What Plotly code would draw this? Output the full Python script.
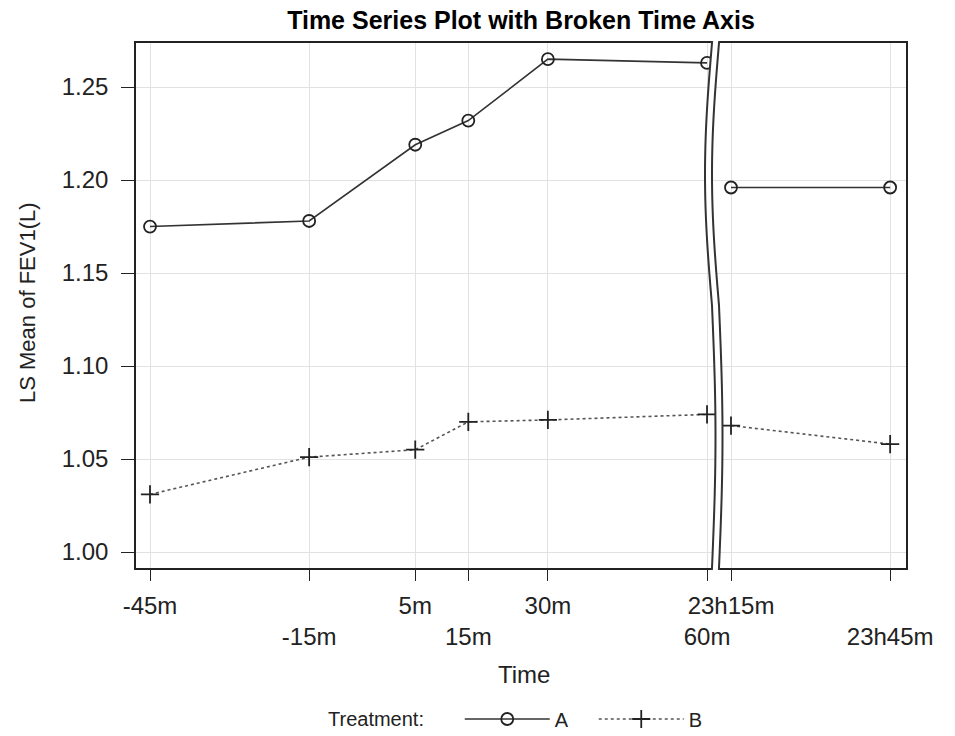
import math
import plotly.graph_objects as go

# ---------------- data ----------------
time_min = [-45, -15, 5, 15, 30, 60, 1395, 1425]
time_lbl = ["-45m", "-15m", "5m", "15m", "30m", "60m", "23h15m", "23h45m"]
label_row = [1, 2, 1, 2, 1, 2, 1, 2]
trt_A = [1.175, 1.178, 1.219, 1.232, 1.265, 1.263, 1.196, 1.196]
trt_B = [1.031, 1.051, 1.055, 1.070, 1.071, 1.074, 1.068, 1.058]
y_ticks = [1.00, 1.05, 1.10, 1.15, 1.20, 1.25]
break_after = 60  # minutes; axis is broken between 60m and 23h15m

# ---------------- layout geometry (pixels) ----------------
W, H = 955, 736
PL, PR, PT, PB = 136, 906, 43, 568
PW, PH = PR - PL, PB - PT
SPLIT = 716  # pixel where left / right panels meet
px_per_min = 5.305
x0_px = 150  # pixel of -45m
right_ref_px = 731  # pixel of 23h15m

def px2min_left(p):
    return -45 + (p - x0_px) / px_per_min

def px2min_right(p):
    return 1395 + (p - right_ref_px) / px_per_min

dsplit = (SPLIT - PL) / PW
rng_left = [px2min_left(PL), px2min_left(SPLIT)]
rng_right = [px2min_right(SPLIT), px2min_right(PR)]
y_rng = [0.9914, 1.2737]

def px_x(p):
    return (p - PL) / PW

def px_y(p):
    return (PB - p) / PH

FONT = "Liberation Sans, Arial, sans-serif"
INK = "#222222"
GRID = "#e2e2e2"
TICKFONT = dict(family=FONT, size=24, color=INK)

left_idx = [i for i, t in enumerate(time_min) if t <= break_after]
right_idx = [i for i, t in enumerate(time_min) if t > break_after]

fig = go.Figure()

def add_series(vals, name, sym, dash, color, msize):
    for idx, xa, show in ((left_idx, "x", True), (right_idx, "x2", False)):
        fig.add_trace(go.Scatter(
            x=[time_min[i] for i in idx], y=[vals[i] for i in idx],
            xaxis=xa, yaxis="y" if xa == "x" else "y2",
            mode="lines+markers", name=name, legendgroup=name, showlegend=show,
            line=dict(color=color, width=1.6, dash=dash),
            marker=dict(symbol=sym, size=msize, color=INK, line=dict(width=1.8, color=INK)),
        ))

add_series(trt_A, "A", "circle-open", "solid", "#333333", 12)
add_series(trt_B, "B", "cross-thin-open", "dot", "#555555", 13)

def tick_texts(idx):
    return [time_lbl[i] if label_row[i] == 1 else "<br>" + time_lbl[i] for i in idx]

axis_common = dict(
    ticks="outside", ticklen=11, tickwidth=1.3, tickcolor=INK,
    showline=True, linecolor=INK, linewidth=1.5, mirror=True,
    showgrid=True, gridcolor=GRID, gridwidth=1, zeroline=False,
    tickfont=TICKFONT, automargin=False, ticklabelstandoff=4,
)

fig.update_layout(
    width=W, height=H,
    margin=dict(l=PL, r=W - PR, t=PT, b=H - PB, autoexpand=False),
    paper_bgcolor="white", plot_bgcolor="white",
    font=dict(family=FONT, size=20, color=INK),
    title=dict(text="<b>Time Series Plot with Broken Time Axis</b>",
               x=0.5, xref="paper", xanchor="center",
               y=1 - 20 / H, yref="container", yanchor="middle",
               font=dict(family=FONT, size=25, color="#000000")),
    xaxis=dict(domain=[0, dsplit], range=rng_left, anchor="y",
               tickmode="array", tickvals=[time_min[i] for i in left_idx],
               ticktext=tick_texts(left_idx), **axis_common),
    xaxis2=dict(domain=[dsplit, 1], range=rng_right, anchor="y2",
                tickmode="array", tickvals=[time_min[i] for i in right_idx],
                ticktext=tick_texts(right_idx), **axis_common),
    yaxis=dict(domain=[0, 1], range=y_rng, anchor="x",
               tickmode="array", tickvals=y_ticks, tickformat=".2f",
               ticks="outside", ticklen=13, tickwidth=1.3, tickcolor=INK,
               showline=True, linecolor=INK, linewidth=1.5, mirror=False,
               showgrid=True, gridcolor=GRID, zeroline=False, automargin=False,
               ticklabelstandoff=8, tickfont=TICKFONT),
    yaxis2=dict(domain=[0, 1], range=y_rng, anchor="x2", matches="y", side="right",
                tickmode="array", tickvals=y_ticks, showticklabels=False, ticks="",
                showline=True, linecolor=INK, linewidth=1.5,
                showgrid=True, gridcolor=GRID, zeroline=False),
    legend=dict(orientation="h", x=px_x(326), xanchor="left",
                y=px_y(719), yanchor="middle",
                title=dict(text="Treatment:" + "&nbsp;" * 5, side="left",
                           font=dict(family=FONT, size=20, color=INK)),
                font=dict(family=FONT, size=20, color=INK),
                entrywidth=34, entrywidthmode="pixels",
                bgcolor="rgba(0,0,0,0)", itemwidth=85),
    showlegend=True,
)

# axis titles
fig.add_annotation(text="Time", xref="paper", yref="paper",
                   x=px_x(524), y=px_y(674), xanchor="center", yanchor="middle",
                   showarrow=False, font=dict(family=FONT, size=24, color=INK))
fig.add_annotation(text="LS Mean of FEV1(L)", xref="paper", yref="paper",
                   x=px_x(27), y=px_y(303), xanchor="center", yanchor="middle",
                   showarrow=False, textangle=-90,
                   font=dict(family=FONT, size=22, color=INK))

# broken-axis marker: two wavy lines with white gap
def offset(f):
    s = math.sin(2 * math.pi * f)
    return -7 * s if f < 0.5 else -3.5 * s

N = 60
ys = [PT - 2 + (PH + 4) * k / N for k in range(N + 1)]
left_pts = [(712 + offset((y - PT) / PH), y) for y in ys]
right_pts = [(719 + offset((y - PT) / PH), y) for y in ys]

def pth(pts):
    return " ".join(("M" if i == 0 else "L") + f" {px_x(x):.5f},{px_y(y):.5f}"
                    for i, (x, y) in enumerate(pts))

fill_path = pth(left_pts + right_pts[::-1]) + " Z"
fig.add_shape(type="path", path=fill_path, xref="paper", yref="paper",
              fillcolor="white", line=dict(width=0), layer="above")
for pts in (left_pts, right_pts):
    fig.add_shape(type="path", path=pth(pts), xref="paper", yref="paper",
                  line=dict(color="#333333", width=2), layer="above")

fig.write_html("out.html")
